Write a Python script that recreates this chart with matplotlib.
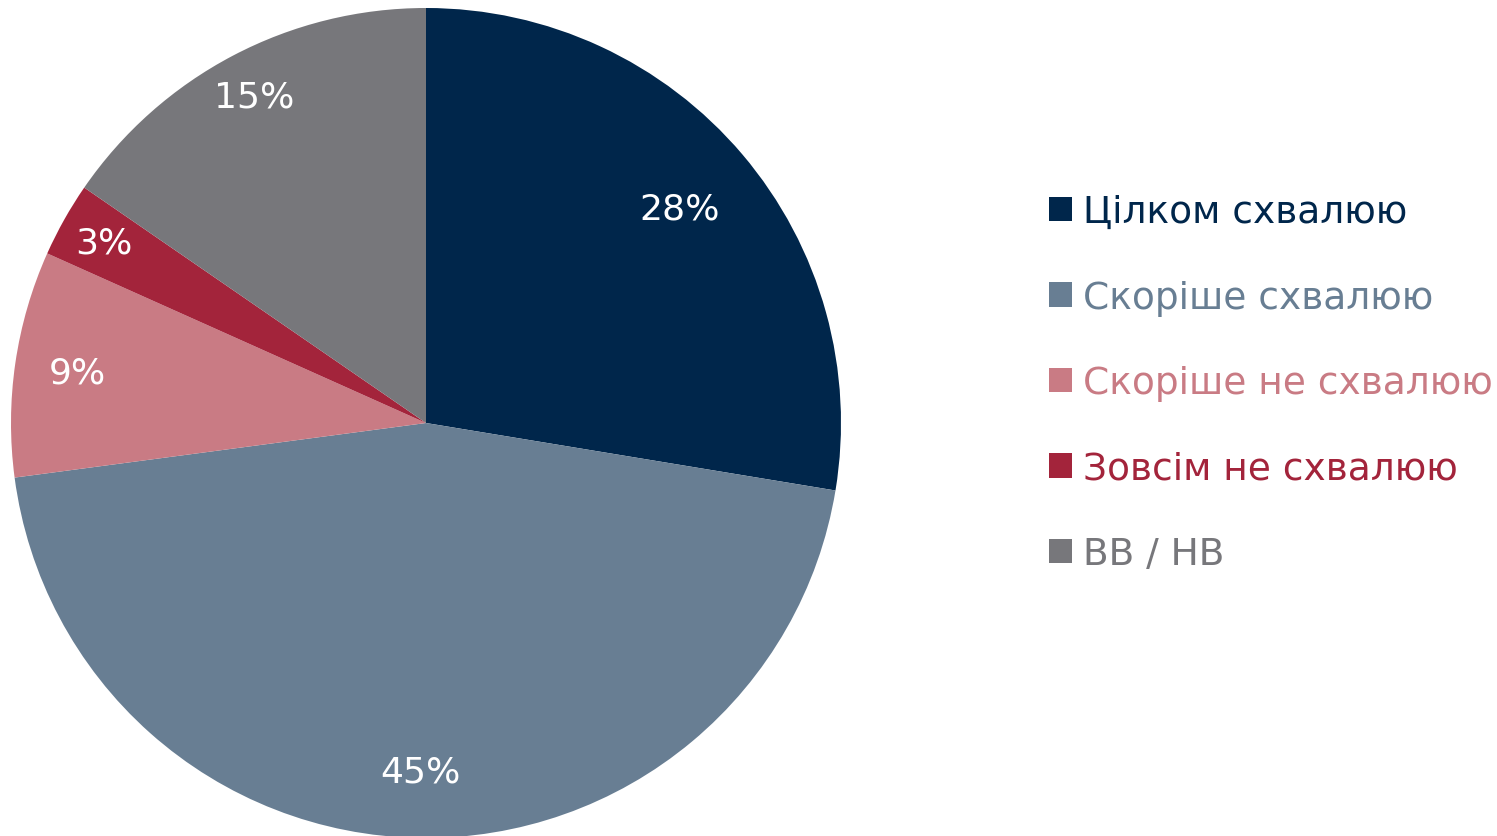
import matplotlib
matplotlib.use("Agg")
import matplotlib.pyplot as plt
import numpy as np

plt.rcParams["font.family"] = ["DejaVu Sans"]

labels = ["Цілком схвалюю", "Скоріше схвалюю", "Скоріше не схвалюю",
          "Зовсім не схвалюю", "ВВ / НВ"]
values = [27.6, 45.3, 8.8, 2.9, 15.4]
colors = ["#00264B", "#687E93", "#C97B84", "#A3243B", "#77777B"]
# radial position of each percentage label (fraction of radius)
label_r = [0.80, 0.84, 0.85, 0.89, 0.89]

fig = plt.figure(figsize=(14.97, 8.37), dpi=100)
# pie centre ~ (426, 423) px, radius ~ 415 px
ax = fig.add_axes([11 / 1497, -2 / 837, 830 / 1497, 830 / 837])
wedges, _, autotexts = ax.pie(
    values, colors=colors, startangle=90, counterclock=False,
    autopct=lambda p: f"{round(p)}%", pctdistance=0.85, radius=1.0,
    textprops={"color": "white", "fontsize": 26},
)
for w, t, r in zip(wedges, autotexts, label_r):
    ang = np.deg2rad((w.theta1 + w.theta2) / 2)
    t.set_position((r * np.cos(ang), r * np.sin(ang)))
ax.set_xlim(-1, 1)
ax.set_ylim(-1, 1)
ax.set_aspect("equal")

leg = fig.legend(
    wedges, labels, loc="center left", bbox_to_anchor=(1049 / 1497, 0.541),
    frameon=False, fontsize=27, handlelength=0.62, handleheight=0.62,
    handletextpad=0.28, labelspacing=1.32, borderpad=0, borderaxespad=0,
)
for text, color in zip(leg.get_texts(), colors):
    text.set_color(color)

fig.savefig("out.png", dpi=100)
